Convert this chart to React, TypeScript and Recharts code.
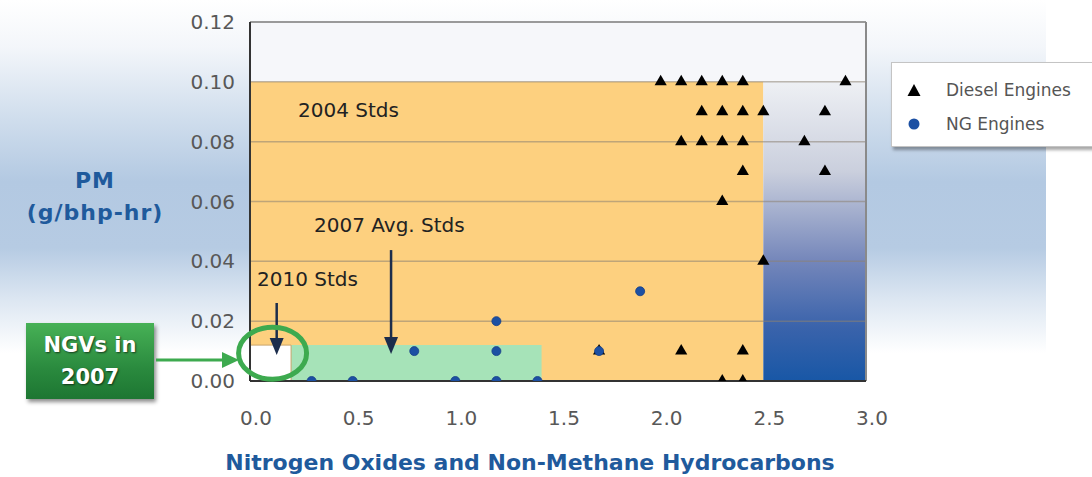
import React from 'react';
import {
  ScatterChart,
  Scatter,
  XAxis,
  YAxis,
  ZAxis,
  ReferenceArea,
  ReferenceLine,
  ReferenceDot,
} from 'recharts';

// ---- data ----
const xTicks = [0, 0.5, 1.0, 1.5, 2.0, 2.5, 3.0];
const yTicks = [0, 0.02, 0.04, 0.06, 0.08, 0.1, 0.12];
const gridY = [0.02, 0.04, 0.06, 0.08, 0.1];

const seriesNames = ['Diesel Engines', 'NG Engines'];

const dieselNOx = [2.0, 2.1, 2.2, 2.3, 2.4, 2.9, 2.2, 2.3, 2.4, 2.5, 2.8, 2.1, 2.2, 2.3, 2.4, 2.7, 2.4, 2.8, 2.3, 2.5, 1.7, 2.1, 2.4, 2.3, 2.4];
const dieselPM = [0.10, 0.10, 0.10, 0.10, 0.10, 0.10, 0.09, 0.09, 0.09, 0.09, 0.09, 0.08, 0.08, 0.08, 0.08, 0.08, 0.07, 0.07, 0.06, 0.04, 0.01, 0.01, 0.01, 0.0, 0.0];

const ngNOx = [0.3, 0.5, 0.8, 1.0, 1.2, 1.2, 1.2, 1.4, 1.7, 1.9];
const ngPM = [0.0, 0.0, 0.01, 0.0, 0.02, 0.01, 0.0, 0.0, 0.01, 0.03];

const stdNames = ['2004 Stds', '2007 Avg. Stds', '2010 Stds'];
const stdNOx = [2.5, 1.42, 0.2];
const stdPM = [0.1, 0.012, 0.012];

const dieselData = dieselNOx.map((x, i) => ({ x, y: dieselPM[i] }));
const ngData = ngNOx.map((x, i) => ({ x, y: ngPM[i] }));

const TICK_FONT = { fontFamily: 'DejaVu Sans', fontSize: 20, fill: '#585858' };
const NAVY = '#1C2D4C';
const GREEN = '#3DAA4F';
const TITLE_BLUE = '#1F5A9C';

const textShape = (label: string) => (p: any) => (
  <text
    x={p.cx}
    y={p.cy}
    dominantBaseline="central"
    fontFamily="DejaVu Sans"
    fontSize={20}
    fill="#222"
  >
    {label}
  </text>
);

const arrowShape = (len: number) => (p: any) => (
  <g>
    <line x1={p.cx} y1={p.cy - len} x2={p.cx} y2={p.cy - 14} stroke={NAVY} strokeWidth={2.5} />
    <polygon
      points={`${p.cx},${p.cy} ${p.cx - 7},${p.cy - 17} ${p.cx + 7},${p.cy - 17}`}
      fill={NAVY}
    />
  </g>
);

const ellipseShape = (p: any) => (
  <ellipse cx={p.cx} cy={p.cy} rx={34} ry={26} fill="none" stroke={GREEN} strokeWidth={5} />
);

export default function App() {
  return (
    <div
      style={{
        position: 'fixed',
        left: 0,
        top: 0,
        width: 1092,
        height: 477,
        overflow: 'hidden',
        background: '#ffffff',
      }}
    >
      {/* page background band */}
      <div
        style={{
          position: 'absolute',
          left: 0,
          top: 0,
          width: 1046,
          height: 477,
          background:
            'linear-gradient(180deg, #ffffff 0%, #f3f6fa 10%, #d6e2ef 22%, #b3c9e2 38%, #b6cbe3 52%, #dde7f2 63%, #ffffff 74%, #ffffff 100%)',
        }}
      />
      <svg width={0} height={0} style={{ position: 'absolute' }}>
        <defs>
          <linearGradient id="blueZone" x1="0" y1="0" x2="0" y2="1">
            <stop offset="0%" stopColor="#EEF0F4" />
            <stop offset="30%" stopColor="#CACFDD" />
            <stop offset="60%" stopColor="#7486BA" />
            <stop offset="82%" stopColor="#3A63AB" />
            <stop offset="100%" stopColor="#1857A6" />
          </linearGradient>
        </defs>
      </svg>

      <div style={{ position: 'absolute', left: 0, top: 0 }}>
        <ScatterChart
          width={1092}
          height={477}
          margin={{ top: 22, right: 226, bottom: 46, left: 180 }}
        >
          <XAxis
            type="number"
            dataKey="x"
            domain={[0, 3]}
            ticks={xTicks}
            tickFormatter={(v: number) => v.toFixed(1)}
            allowDataOverflow
            height={50}
            tickLine={false}
            tickSize={0}
            tickMargin={30}
            tick={{ ...TICK_FONT, dx: 6 }}
            axisLine={{ stroke: '#333', strokeWidth: 2 }}
          />
          <YAxis
            type="number"
            dataKey="y"
            domain={[0, 0.12]}
            ticks={yTicks}
            tickFormatter={(v: number) => v.toFixed(2)}
            allowDataOverflow
            width={70}
            tickLine={false}
            tickSize={0}
            tickMargin={15}
            tick={TICK_FONT}
            axisLine={{ stroke: '#333', strokeWidth: 2 }}
          />
          <ZAxis zAxisId="d" range={[95, 95]} />
          <ZAxis zAxisId="n" range={[100, 100]} />

          {/* plot background above 2004 standard */}
          <ReferenceArea x1={0} x2={3} y1={0} y2={0.12} fill="#F6F7FA" fillOpacity={1} stroke="none" />
          {/* 2004 standard */}
          <ReferenceArea x1={0} x2={stdNOx[0]} y1={0} y2={stdPM[0]} fill="#FDD07F" fillOpacity={1} stroke="none" />
          {/* outside standards zone */}
          <ReferenceArea x1={stdNOx[0]} x2={3} y1={0} y2={stdPM[0]} fill="url(#blueZone)" fillOpacity={1} stroke="none" />
          {/* 2007 avg standard */}
          <ReferenceArea x1={0} x2={stdNOx[1]} y1={0} y2={stdPM[1]} fill="#A6E3B8" fillOpacity={1} stroke="none" />
          {/* 2010 standard */}
          <ReferenceArea x1={0} x2={stdNOx[2]} y1={0} y2={stdPM[2]} fill="#ffffff" fillOpacity={1} stroke="#C9A46A" strokeWidth={1} />

          {gridY.map((v) => (
            <ReferenceLine key={v} y={v} stroke="#8C8172" strokeOpacity={0.55} strokeWidth={1.5} />
          ))}
          <ReferenceLine y={0.12} stroke="#9A9A9A" strokeWidth={2} />
          <ReferenceLine x={3} stroke="#8A8A8A" strokeWidth={2} />

          <ReferenceDot x={0.234} y={0.0906} r={0} shape={textShape(stdNames[0])} />
          <ReferenceDot x={0.312} y={0.0522} r={0} shape={textShape(stdNames[1])} />
          <ReferenceDot x={0.034} y={0.0341} r={0} shape={textShape(stdNames[2])} />
          <ReferenceDot x={0.13} y={0.0087} r={0} shape={arrowShape(52)} />
          <ReferenceDot x={0.687} y={0.009} r={0} shape={arrowShape(104)} />
          <ReferenceDot x={0.11} y={0.0093} r={0} shape={ellipseShape} />

          <Scatter
            name={seriesNames[0]}
            data={dieselData}
            zAxisId="d"
            shape="triangle"
            fill="#000000"
            legendType="triangle"
            isAnimationActive={false}
          />
          <Scatter
            name={seriesNames[1]}
            data={ngData}
            zAxisId="n"
            shape="circle"
            fill="#1C50A3"
            stroke="#173F86"
            strokeWidth={0.8}
            legendType="circle"
            isAnimationActive={false}
          />
        </ScatterChart>
      </div>

      {/* y-axis title */}
      <div
        style={{
          position: 'absolute',
          left: 0,
          top: 165,
          width: 190,
          textAlign: 'center',
          fontFamily: 'DejaVu Sans',
          fontWeight: 'bold',
          fontSize: 22,
          lineHeight: '32px',
          color: TITLE_BLUE,
          letterSpacing: 1,
        }}
      >
        PM
        <br />
        (g/bhp-hr)
      </div>

      {/* x-axis title */}
      <div
        style={{
          position: 'absolute',
          left: 180,
          top: 449,
          width: 700,
          textAlign: 'center',
          fontFamily: 'DejaVu Sans',
          fontWeight: 'bold',
          fontSize: 22,
          lineHeight: '28px',
          color: TITLE_BLUE,
          whiteSpace: 'nowrap',
        }}
      >
        Nitrogen Oxides and Non-Methane Hydrocarbons
      </div>

      {/* NGVs in 2007 callout */}
      <div
        style={{
          position: 'absolute',
          left: 26,
          top: 323,
          width: 128,
          height: 76,
          background: 'linear-gradient(180deg, #47B156 0%, #2A8A3E 60%, #1D7632 100%)',
          boxShadow: '2px 3px 4px rgba(0,0,0,0.45)',
          color: '#ffffff',
          fontFamily: 'DejaVu Sans',
          fontWeight: 'bold',
          fontSize: 21,
          lineHeight: '32px',
          textAlign: 'center',
          paddingTop: 6,
          boxSizing: 'border-box',
          textShadow: '1px 1px 2px rgba(0,0,0,0.6)',
        }}
      >
        NGVs in
        <br />
        2007
      </div>
      <svg
        width={1092}
        height={477}
        style={{ position: 'absolute', left: 0, top: 0, pointerEvents: 'none' }}
      >
        <line x1={156} y1={360} x2={224} y2={360} stroke={GREEN} strokeWidth={3} />
        <polygon points="239,360 222,352 222,368" fill={GREEN} />
      </svg>

      {/* legend */}
      <div
        style={{
          position: 'absolute',
          left: 891,
          top: 62,
          width: 220,
          height: 85,
          background: '#ffffff',
          border: '1px solid #C4C4C4',
          boxShadow: '2px 3px 3px rgba(0,0,0,0.35)',
          boxSizing: 'border-box',
          fontFamily: 'DejaVu Sans',
          fontSize: 17,
          color: '#555',
        }}
      >
        <svg width={30} height={85} style={{ position: 'absolute', left: 10, top: 0 }}>
          <polygon points="12,21 5.5,33 18.5,33" fill="#000" />
          <circle cx={12} cy={61} r={5.5} fill="#1C50A3" />
        </svg>
        <div style={{ position: 'absolute', left: 54, top: 16, lineHeight: '22px', whiteSpace: 'nowrap' }}>
          {seriesNames[0]}
        </div>
        <div style={{ position: 'absolute', left: 54, top: 50, lineHeight: '22px', whiteSpace: 'nowrap' }}>
          {seriesNames[1]}
        </div>
      </div>
    </div>
  );
}
